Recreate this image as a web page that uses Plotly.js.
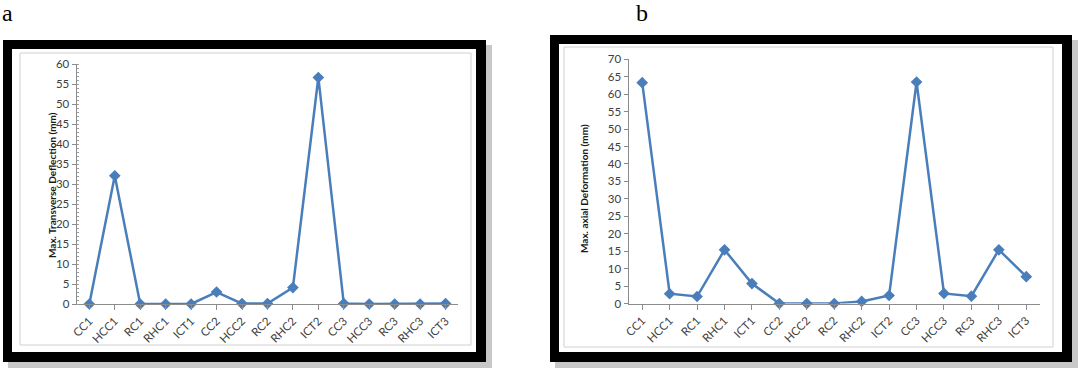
<!DOCTYPE html>
<html>
<head>
<meta charset="utf-8">
<script src="https://cdn.plot.ly/plotly-3.0.1.min.js"></script>
<style>html,body{margin:0;padding:0;background:#fff;}#chart{width:1080px;height:370px;}</style>
</head>
<body>
<div id="chart"></div>
<script>
const categories = ['CC1','HCC1','RC1','RHC1','ICT1','CC2','HCC2','RC2','RHC2','ICT2','CC3','HCC3','RC3','RHC3','ICT3'];
const deflection = [0, 32.1, 0, 0, 0, 3.0, 0.1, 0.1, 4.1, 56.7, 0.1, 0, 0, 0, 0.1];
const axialDef = [63.3, 2.8, 2.0, 15.4, 5.7, 0, 0, 0, 0.6, 2.3, 63.5, 2.9, 2.1, 15.4, 7.7];
const titleA = 'Max. Transverse Deflection (mm)';
const titleB = 'Max. axial Deformation (mm)';

const W = 1080, H = 370;
const px = x => x / W;
const py = y => 1 - y / H;

const blue = '#4a7ebb';
const font = 'Lato, "Open Sans", sans-serif';

function trace(y, xa, ya) {
  return {
    x: categories, y: y, xaxis: xa, yaxis: ya,
    type: 'scatter', mode: 'lines+markers',
    line: {color: blue, width: 2.5},
    marker: {symbol: 'diamond', size: 9, color: blue},
    cliponaxis: false, hoverinfo: 'x+y'
  };
}

function xaxis(domain) {
  return {
    domain: domain, type: 'category', range: [-0.5, 14.5],
    showgrid: false, zeroline: false, showline: true, linecolor: '#8c8c8c', linewidth: 1,
    ticks: 'outside', ticklen: 5, tickcolor: '#8c8c8c',
    tickangle: -45, tickfont: {family: font, size: 11.5, color: '#404040'},
    fixedrange: true
  };
}
function yaxis(domain, max, minor) {
  const a = {
    domain: domain, range: [0, max], dtick: 5, tick0: 0,
    showgrid: false, zeroline: false, showline: true, linecolor: '#8c8c8c', linewidth: 1,
    ticks: 'outside', ticklen: 4, tickcolor: '#8c8c8c',
    tickfont: {family: font, size: 11.5, color: '#404040'},
    fixedrange: true
  };
  if (minor) a.minor = {dtick: 1, ticks: 'inside', ticklen: 2, tickcolor: '#a0a0a0'};
  return a;
}

function frame(x0, y0, x1, y1, bx0, by0, bx1, by1) {
  return [
    {type:'rect', xref:'paper', yref:'paper', layer:'below',
     x0: px(x0+5), x1: px(x1+6), y0: py(y1+6), y1: py(y0+5),
     fillcolor:'#b0b0b0', line:{width:0}, opacity:0.7},
    {type:'rect', xref:'paper', yref:'paper', layer:'below',
     x0: px(x0), x1: px(x1), y0: py(y1), y1: py(y0),
     fillcolor:'#000', line:{width:0}},
    {type:'rect', xref:'paper', yref:'paper', layer:'below',
     x0: px(x0+9), x1: px(x1-10), y0: py(y1-10), y1: py(y0+9),
     fillcolor:'#fff', line:{width:0}},
    {type:'rect', xref:'paper', yref:'paper', layer:'below',
     x0: px(bx0), x1: px(bx1), y0: py(by1), y1: py(by0),
     fillcolor:'rgba(0,0,0,0)', line:{width:1, color:'#d0d0d0'}}
  ];
}

const shapes = [].concat(
  frame(3, 40, 486, 362, 20, 53, 471, 345),
  frame(550, 35, 1072, 362, 564, 47, 1053, 347)
);

const layout = {
  width: W, height: H,
  margin: {l:0, r:0, t:0, b:0},
  paper_bgcolor: '#fff', plot_bgcolor: 'rgba(0,0,0,0)',
  showlegend: false,
  xaxis: xaxis([px(76.6), px(458.3)]),
  yaxis: yaxis([py(304), py(64.3)], 60, true),
  xaxis2: Object.assign(xaxis([px(628.5), px(1040)]), {anchor: 'y2'}),
  yaxis2: Object.assign(yaxis([py(303.5), py(59.3)], 70, false), {anchor: 'x2'}),
  shapes: shapes,
  annotations: [
    {xref:'paper', yref:'paper', x: px(44), y: py(185), text: '<b>' + titleA + '</b>',
     textangle: -90, showarrow: false, font: {family: font, size: 10, color: '#1a1a1a'}},
    {xref:'paper', yref:'paper', x: px(584), y: py(189), text: '<b>' + titleB + '</b>',
     textangle: -90, showarrow: false, font: {family: font, size: 10, color: '#1a1a1a'}},
    {xref:'paper', yref:'paper', x: px(0), y: py(13), xanchor:'left', yanchor:'middle', text: 'a',
     showarrow: false, font: {family: '"Liberation Serif", "DejaVu Serif", serif', size: 24, color: '#000'}},
    {xref:'paper', yref:'paper', x: px(634), y: py(13), xanchor:'left', yanchor:'middle', text: 'b',
     showarrow: false, font: {family: '"Liberation Serif", "DejaVu Serif", serif', size: 24, color: '#000'}}
  ]
};
layout.xaxis.anchor = 'y';
layout.yaxis.anchor = 'x';

Plotly.newPlot('chart', [trace(deflection, 'x', 'y'), trace(axialDef, 'x2', 'y2')], layout, {staticPlot: true, displayModeBar: false});
</script>
</body>
</html>
